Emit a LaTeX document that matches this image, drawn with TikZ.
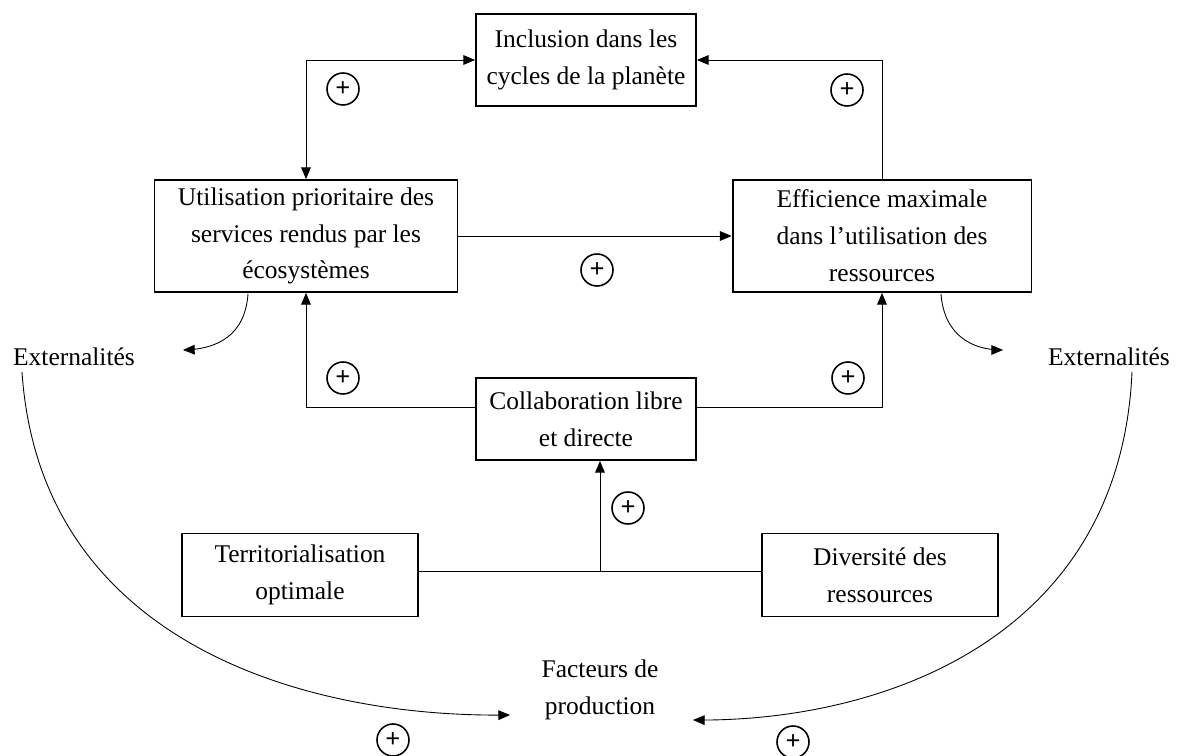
\documentclass[tikz,border=0pt]{standalone}
\usepackage{fontspec}
\setmainfont{Liberation Serif}
\usepackage{tikz}
\usetikzlibrary{arrows}

\begin{document}
\begin{tikzpicture}[x=0.02cm,y=-0.02cm,>=triangle 45,
                      box node/.style={rectangle,draw,line width=1.1pt,align=center,inner sep=2pt,
                        font=\fontsize{14.5}{21}\selectfont},
                      text node/.style={align=center,font=\fontsize{14.5}{21}\selectfont},
                      plus node/.style={circle,draw,line width=0.9pt,minimum size=0.64cm,inner sep=0pt,
                        font=\fontsize{15}{15}\selectfont\bfseries},
                      link/.style={line width=0.5pt}]
    \useasboundingbox (0,0) rectangle (1179,756);

    \node[box node,minimum width=4.4cm,minimum height=1.84cm] (incl) at (586,60)
      {Inclusion dans les\\cycles de la planète};
    \node[box node,minimum width=6.06cm,minimum height=2.24cm] (util) at (306,236)
      {Utilisation prioritaire des\\services rendus par les\\écosystèmes};
    \node[box node,minimum width=5.98cm,minimum height=2.24cm] (effi) at (882,236)
      {Efficience maximale\\dans l’utilisation des\\ressources};
    \node[box node,minimum width=4.4cm,minimum height=1.64cm] (collab) at (586,419)
      {Collaboration libre\\et directe};
    \node[box node,minimum width=4.72cm,minimum height=1.66cm] (terri) at (300,575)
      {Territorialisation\\optimale};
    \node[box node,minimum width=4.72cm,minimum height=1.66cm] (diver) at (880,575)
      {Diversité des\\ressources};

    \node[text node] (extg) at (74,357) {Externalités};
    \node[text node] (extd) at (1109,357) {Externalités};
    \node[text node] (fact) at (600,690) {Facteurs de\\production};

    \coordinate (jonc) at (600,571);

    % liens entre les cases
    \draw[link,<->] (util.north) |- (incl.west);
    \draw[link,->] (effi.north) |- (incl.east);
    \draw[link,->] (util.east) -- (effi.west);
    \draw[link,->] (collab.west |- 0,407) -| (util.south);
    \draw[link,->] (collab.east |- 0,407) -| (effi.south);
    \draw[link] (terri.east |- jonc) -- (diver.west |- jonc);
    \draw[link,->] (jonc) -- (collab.south -| jonc);

    % externalites
    \draw[link,->] (248,294) .. controls (245,335) and (218,349) .. (183,350);
    \draw[link,->] (941,294) .. controls (944,335) and (972,350) .. (1003,350);
    \draw[link,->] (22,372) .. controls (40,640) and (300,718) .. (510,715);
    \draw[link,->] (1132,372) .. controls (1120,640) and (880,722) .. (693,720);

    \node[plus node] (p1) at (343,89) {+};
    \node[plus node] (p2) at (847,90) {+};
    \node[plus node] (p3) at (597,270) {+};
    \node[plus node] (p4) at (343,378) {+};
    \node[plus node] (p5) at (848,378) {+};
    \node[plus node] (p6) at (628,508) {+};
    \node[plus node] (p7) at (393,740) {+};
    \node[plus node] (p8) at (793,742) {+};
\end{tikzpicture}
\end{document}
